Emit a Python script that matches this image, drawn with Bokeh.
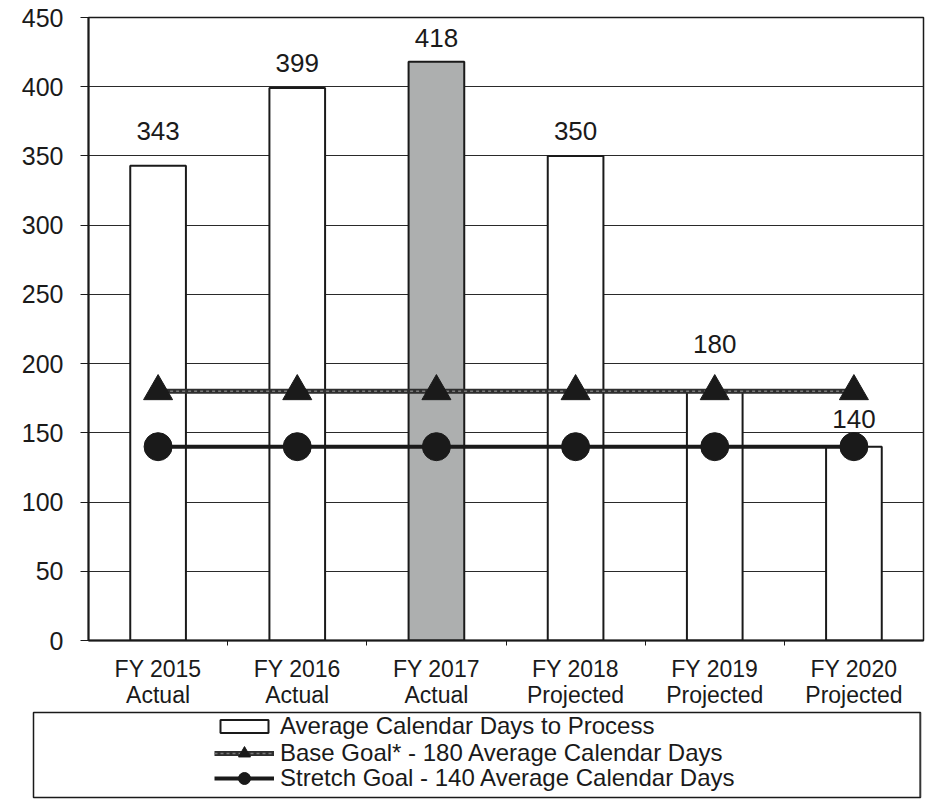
from bokeh.plotting import figure
from bokeh.layouts import column
from bokeh.models import ColumnDataSource, FixedTicker, Range1d, Legend, LegendItem
from bokeh.core.properties import value
from bokeh.embed import file_html
from bokeh.resources import INLINE

# --- data -------------------------------------------------------------
fiscal_years = ["FY 2015", "FY 2016", "FY 2017", "FY 2018", "FY 2019", "FY 2020"]
statuses = ["Actual", "Actual", "Actual", "Projected", "Projected", "Projected"]
avg_days = [343, 399, 418, 350, 180, 140]
base_goal = [180, 180, 180, 180, 180, 180]
stretch_goal = [140, 140, 140, 140, 140, 140]
y_ticks = [0, 50, 100, 150, 200, 250, 300, 350, 400, 450]

# --- styling ----------------------------------------------------------
FONT = value("Liberation Sans")
INK = "#1a1a1a"
GOAL_GRAY = "#2e2e2e"
GOAL_TEXTURE = "#7a7a7a"
bar_fills = ["white", "white", "#adafaf", "white", "white", "white"]
label_lift = [35, 25, 24, 25, 47, 28]   # px above each bar top

xs = [i + 0.5 for i in range(len(fiscal_years))]
src = ColumnDataSource(dict(
    x=xs,
    days=avg_days,
    label=[str(v) for v in avg_days],
    fill=bar_fills,
    lift=[-v for v in label_lift],
    base=base_goal,
    stretch=stretch_goal,
))

p = figure(
    width=933, height=710,
    x_range=Range1d(0, len(fiscal_years)),
    y_range=Range1d(0, 450),
    output_backend="svg", toolbar_location=None,
    min_border_left=88, min_border_right=10,
    min_border_top=17, min_border_bottom=70,
    background_fill_color="white", border_fill_color="white",
)
p.outline_line_color = INK
p.outline_line_width = 1.5

# bars
p.vbar(x="x", top="days", width=0.4, source=src,
       fill_color="fill", line_color=INK, line_width=2)

# value labels
p.text(x="x", y="days", text="label", source=src, y_offset="lift",
       text_align="center", text_baseline="middle",
       text_font=FONT, text_font_size="26px", text_color=INK)

# base goal: dark band with a lighter dotted core
p.line(x="x", y="base", source=src, line_color=GOAL_GRAY, line_width=5)
p.line(x="x", y="base", source=src, line_color=GOAL_TEXTURE, line_width=1.5,
       line_dash="3 3")
p.scatter(x="x", y="base", source=src, marker="triangle", size=29,
          fill_color=INK, line_color=INK)

# stretch goal
p.line(x="x", y="stretch", source=src, line_color=INK, line_width=4)
p.scatter(x="x", y="stretch", source=src, marker="circle", size=28,
          fill_color=INK, line_color=INK)

# axes
p.xgrid.visible = False
p.ygrid.ticker = FixedTicker(ticks=y_ticks)
p.ygrid.grid_line_color = "#2a2a2a"
p.ygrid.grid_line_width = 1

ya = p.yaxis[0]
ya.ticker = FixedTicker(ticks=y_ticks)
ya.axis_line_color = INK
ya.axis_line_width = 2
ya.major_tick_line_color = INK
ya.major_tick_out = 8
ya.major_tick_in = 0
ya.minor_tick_line_color = None
ya.major_label_standoff = 17
ya.major_label_text_font = "Liberation Sans"
ya.major_label_text_font_size = "25px"
ya.major_label_text_color = INK

xa = p.xaxis[0]
xa.ticker = FixedTicker(ticks=xs, minor_ticks=[1, 2, 3, 4, 5])
xa.major_label_overrides = {x: f"{fy}\n{st}" for x, fy, st in zip(xs, fiscal_years, statuses)}
xa.axis_line_color = INK
xa.axis_line_width = 2
xa.major_tick_line_color = None
xa.minor_tick_line_color = INK
xa.minor_tick_out = 5
xa.minor_tick_in = 0
xa.major_label_standoff = 9
xa.major_label_text_font = "Liberation Sans"
xa.major_label_text_font_size = "23px"
xa.major_label_text_color = INK
xa.major_label_text_line_height = 1.0

# --- legend panel (framed box under the chart) --------------------------
lg = figure(
    width=933, height=89,
    x_range=Range1d(0, 1), y_range=Range1d(0, 1),
    x_axis_location=None, y_axis_location=None,
    output_backend="svg", toolbar_location=None,
    min_border_left=33, min_border_right=13,
    min_border_top=2, min_border_bottom=2,
    background_fill_color="white", border_fill_color="white",
)
lg.grid.visible = False
lg.outline_line_color = INK
lg.outline_line_width = 1.5

# key glyphs: styled like the chart series, parked outside the visible range
key_src = ColumnDataSource(dict(x=[5], y=[5]))
key_bar = lg.vbar(x="x", top="y", width=0.1, source=key_src,
                  fill_color="white", line_color=INK, line_width=2)
key_base_line = lg.line(x="x", y="y", source=key_src, line_color=GOAL_GRAY, line_width=5)
key_base_dots = lg.line(x="x", y="y", source=key_src, line_color=GOAL_TEXTURE,
                        line_width=1.5, line_dash="3 3")
key_base_pt = lg.scatter(x="x", y="y", source=key_src, marker="triangle",
                         fill_color=INK, line_color=INK)
key_str_line = lg.line(x="x", y="y", source=key_src, line_color=INK, line_width=4)
key_str_pt = lg.scatter(x="x", y="y", source=key_src, marker="circle",
                        fill_color=INK, line_color=INK)

common = dict(padding=0, margin=0, glyph_width=60, label_standoff=6, label_height=24,
              label_text_font="Liberation Sans", label_text_font_size="24px",
              label_text_color=INK, border_line_color=None, background_fill_alpha=0)

lg.add_layout(Legend(items=[
    LegendItem(label="Average Calendar Days to Process", renderers=[key_bar]),
], location=(181, 57), glyph_height=16, **common), "center")

lg.add_layout(Legend(items=[
    LegendItem(label="Base Goal* - 180 Average Calendar Days",
               renderers=[key_base_line, key_base_dots, key_base_pt]),
], location=(181, 29), glyph_height=30, **common), "center")

lg.add_layout(Legend(items=[
    LegendItem(label="Stretch Goal - 140 Average Calendar Days", renderers=[key_str_line, key_str_pt]),
], location=(181, 4), glyph_height=30, **common), "center")

layout = column(p, column(lg, spacing=0), spacing=0)
open("out.html", "w").write(file_html(layout, INLINE))
